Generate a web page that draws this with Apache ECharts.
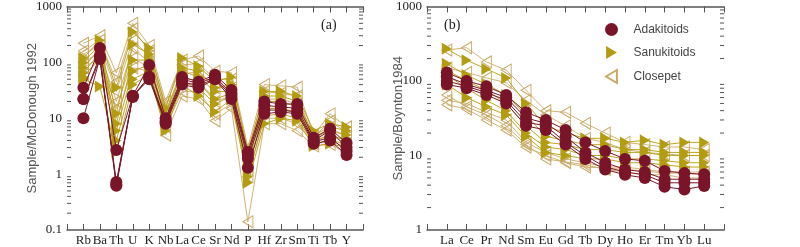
<!DOCTYPE html>
<html>
<head>
<meta charset="utf-8">
<script src="https://cdn.jsdelivr.net/npm/echarts@6/dist/echarts.min.js"></script>
<style>
  html, body { margin: 0; padding: 0; background: #fff; }
  #chart { width: 800px; height: 247px; }
</style>
</head>
<body>
<div id="chart"></div>
<script>
// 微量元素蛛网图 (a) 与稀土配分图 (b)
const spiderCats = ['Rb', 'Ba', 'Th', 'U', 'K', 'Nb', 'La', 'Ce', 'Sr', 'Nd', 'P', 'Hf', 'Zr', 'Sm', 'Ti', 'Tb', 'Y']
const reeCats = ['La', 'Ce', 'Pr', 'Nd', 'Sm', 'Eu', 'Gd', 'Tb', 'Dy', 'Ho', 'Er', 'Tm', 'Yb', 'Lu']

// (a) Sample/McDonough 1992
const adakSpider = [
  [35, 180, 2.7, 25, 90, 10, 55, 45, 60, 32, 2.5, 20, 18, 18, 4.5, 6.5, 3.6],
  [22, 130, 0.72, 25, 55, 9, 50, 42, 55, 28, 2.2, 17, 16, 15, 4, 6, 3],
  [10, 120, 0.62, 24, 55, 8.5, 45, 38, 52, 25, 1.9, 14, 14, 13, 3.8, 4.5, 2.6],
  [22, 115, 0.65, 25, 50, 8, 40, 35, 50, 22, 1.3, 12, 13, 12, 3.5, 4, 2.2]
]
const sanuSpider = [
  [120, 250, 35, 350, 180, 15, 120, 85, 45, 55, 2.5, 30, 30, 25, 6, 8, 7],
  [100, 210, 12, 210, 140, 12, 80, 70, 35, 40, 2, 25, 25, 20, 5, 7, 6],
  [80, 180, 8, 110, 110, 10, 70, 55, 30, 30, 1.5, 20, 20, 16, 4.5, 6, 5],
  [65, 150, 6, 70, 90, 8, 55, 45, 22, 28, 1.2, 15, 15, 13, 4, 5, 4],
  [55, 120, 4, 50, 70, 7, 45, 35, 18, 25, 0.9, 11, 12, 10, 3.5, 4, 3.5],
  [50, 37, 2.5, 40, 60, 6, 40, 25, 13, 22, 0.7, 8, 10, 9, 3.2, 3.5, 3]
]
const closSpider = [
  [220, 300, 65, 500, 200, 20, 110, 130, 70, 65, 3, 40, 38, 36, 5, 12, 7],
  [160, 250, 45, 400, 160, 17, 90, 95, 50, 50, 2.5, 30, 28, 25, 4.5, 9, 5.5],
  [140, 200, 30, 250, 130, 14, 60, 70, 35, 35, 1.8, 22, 22, 18, 4, 7, 4.5],
  [100, 150, 20, 180, 100, 10, 40, 45, 20, 25, 1.2, 15, 15, 12, 3.8, 5, 3.5],
  [80, 120, 15, 120, 80, 7, 30, 30, 12, 18, 0.9, 10, 10, 8, 3.5, 4, 3],
  [60, 110, 10, 80, 70, 5, 25, 22, 9, 15, 0.14, 8, 8, 6, 3.2, 3.4, 2.4]
]

// (b) Sample/Boynton1984
const adakRee = [
  [130, 100, 85, 65, 38, 30, 22, 15, 11.5, 9, 8.5, 6.2, 5.8, 5.6],
  [115, 90, 75, 60, 32, 27, 18, 11, 8, 6.5, 6, 4.8, 4.8, 4.8],
  [100, 85, 70, 55, 28, 25, 15, 10, 7, 6, 5.5, 4.3, 4.3, 4.3],
  [90, 80, 65, 50, 25, 22, 14, 9, 6.5, 5.5, 5, 3.8, 3.5, 3.9]
]
const sanuRee = [
  [270, 190, 145, 110, 50, 25, 20, 17, 17, 15, 16, 14, 15, 15],
  [170, 120, 90, 65, 35, 18, 16, 14, 14, 12, 12, 11, 11, 11],
  [140, 100, 75, 50, 25, 15, 14, 12, 12, 11, 11, 10, 10, 10],
  [120, 80, 55, 40, 20, 13, 12, 10, 10, 9, 9, 8.5, 8, 8],
  [90, 60, 45, 35, 18, 11, 10, 9, 9, 8, 8, 7.5, 7, 7]
]
const closRee = [
  [260, 280, 180, 140, 75, 40, 38, 27, 20, 15, 14, 13, 13, 12],
  [150, 130, 110, 95, 55, 35, 25, 17, 15, 12, 11, 10.5, 10, 10],
  [65, 45, 35, 25, 14, 9, 8.2, 7.5, 6.5, 6, 5.5, 5.5, 5, 5],
  [55, 50, 38, 30, 15, 11, 9, 8, 7, 7, 6.5, 6, 6, 6],
  [48, 42, 30, 22, 13, 10, 8, 7, 6.8, 6.5, 6.2, 5.8, 5.8, 5.5]
]

// 对数轴次刻度 (2..9 × 10^n)
const minorTicksA = [0.2, 0.3, 0.4, 0.5, 0.6, 0.7, 0.8, 0.9, 2, 3, 4, 5, 6, 7, 8, 9,
  20, 30, 40, 50, 60, 70, 80, 90, 200, 300, 400, 500, 600, 700, 800, 900]
const minorTicksB = [2, 3, 4, 5, 6, 7, 8, 9, 20, 30, 40, 50, 60, 70, 80, 90,
  200, 300, 400, 500, 600, 700, 800, 900]

const RED = '#7a1529'
const OLIVE = '#b39c10'
const TAN = '#c9aa68'
const AXIS = '#555'
const serif = 'Liberation Serif'
const sans = 'Liberation Sans'

const styles = {
  Adakitoids: {
    symbol: 'circle', symbolSize: 12, symbolRotate: 0,
    itemStyle: { color: RED },
    lineStyle: { color: RED, width: 1 }, z: 4
  },
  Sanukitoids: {
    symbol: 'triangle', symbolSize: [12, 10], symbolRotate: -90,
    itemStyle: { color: OLIVE },
    lineStyle: { color: OLIVE, width: 0.9 }, z: 3
  },
  Closepet: {
    symbol: 'triangle', symbolSize: [12, 10], symbolRotate: 90,
    itemStyle: { color: 'rgba(255,255,255,0)', borderColor: TAN, borderWidth: 1 },
    lineStyle: { color: TAN, width: 0.9 }, z: 2
  }
}

function makeSeries(name, rows, idx) {
  const s = styles[name]
  return rows.map(r => ({
    name,
    type: 'line',
    xAxisIndex: idx * 2,
    yAxisIndex: idx * 2,
    data: ['-', ...r, '-'],
    symbol: s.symbol,
    symbolSize: s.symbolSize,
    symbolRotate: s.symbolRotate,
    itemStyle: s.itemStyle,
    lineStyle: s.lineStyle,
    z: s.z,
    silent: true
  }))
}

// 左右两侧的次刻度，用自定义系列画
function minorTickSeries(values, idx) {
  return {
    type: 'custom',
    xAxisIndex: idx * 2,
    yAxisIndex: idx * 2,
    silent: true,
    z: 10,
    data: values.map(v => [0, v]),
    renderItem: (params, api) => {
      const cs = params.coordSys
      const y = api.coord([0, api.value(1)])[1]
      const style = { stroke: AXIS, lineWidth: 1 }
      return {
        type: 'group',
        children: [
          { type: 'line', shape: { x1: cs.x, y1: y, x2: cs.x + 4, y2: y }, style },
          { type: 'line', shape: { x1: cs.x + cs.width - 4, y1: y, x2: cs.x + cs.width, y2: y }, style }
        ]
      }
    }
  }
}

const axisLine = { lineStyle: { color: AXIS, width: 1.5 } }

function xAxes(gridIndex, cats) {
  const data = ['', ...cats, '']
  return [
    {
      gridIndex, type: 'category', data, boundaryGap: false, position: 'bottom',
      axisLine,
      axisTick: { inside: true, length: 6, interval: 0, lineStyle: { color: AXIS } },
      axisLabel: { interval: 0, margin: 4, fontFamily: serif, fontSize: 13, color: '#222' },
      splitLine: { show: false }
    },
    {
      gridIndex, type: 'category', data, boundaryGap: false, position: 'top',
      axisLine,
      axisTick: { inside: true, length: 6, interval: 0, lineStyle: { color: AXIS } },
      axisLabel: { show: false },
      splitLine: { show: false }
    }
  ]
}

function yAxes(gridIndex, min, max, name, nameGap) {
  const common = {
    gridIndex, type: 'log', logBase: 10, min, max,
    axisLine,
    axisTick: { inside: true, length: 7, lineStyle: { color: AXIS } },
    splitLine: { show: false }
  }
  return [
    {
      ...common, position: 'left', name, nameLocation: 'middle', nameGap,
      nameMoveOverlap: false,
      nameTextStyle: { fontFamily: sans, fontSize: 13, color: '#555' },
      axisLabel: { margin: 5, fontFamily: serif, fontSize: 13, color: '#222', formatter: v => String(v) }
    },
    { ...common, position: 'right', axisLabel: { show: false } }
  ]
}

const chart = echarts.init(document.getElementById('chart'), null, { renderer: 'canvas' })

chart.setOption({
  animation: false,
  title: [
    { text: '(a)', left: 316, top: 13, textStyle: { fontFamily: serif, fontSize: 14, fontWeight: 'normal', color: '#222' } },
    { text: '(b)', left: 439, top: 13, textStyle: { fontFamily: serif, fontSize: 14, fontWeight: 'normal', color: '#222' } }
  ],
  legend: {
    orient: 'vertical', left: 600, top: 18,
    itemWidth: 14, itemHeight: 13, itemGap: 10,
    textStyle: { fontFamily: sans, fontSize: 12, color: '#444', padding: [0, 0, 0, 10] },
    data: [
      { name: 'Adakitoids', icon: 'circle' },
      { name: 'Sanukitoids', icon: 'path://M0,0 L10,6 L0,12 Z' },
      { name: 'Closepet', icon: 'path://M10,0 L0,6 L10,12 Z' }
    ]
  },
  grid: [
    { left: 67, top: 5, width: 296, height: 229 },
    { left: 427, top: 4, width: 297, height: 229 }
  ],
  xAxis: [...xAxes(0, spiderCats), ...xAxes(1, reeCats)],
  yAxis: [
    ...yAxes(0, 0.1, 1000, 'Sample/McDonough 1992', 28),
    ...yAxes(1, 1, 1000, 'Sample/Boynton1984', 22)
  ],
  series: [
    ...makeSeries('Closepet', closSpider, 0),
    ...makeSeries('Sanukitoids', sanuSpider, 0),
    ...makeSeries('Adakitoids', adakSpider, 0),
    ...makeSeries('Closepet', closRee, 1),
    ...makeSeries('Sanukitoids', sanuRee, 1),
    ...makeSeries('Adakitoids', adakRee, 1),
    minorTickSeries(minorTicksA, 0),
    minorTickSeries(minorTicksB, 1)
  ]
})
</script>
</body>
</html>
